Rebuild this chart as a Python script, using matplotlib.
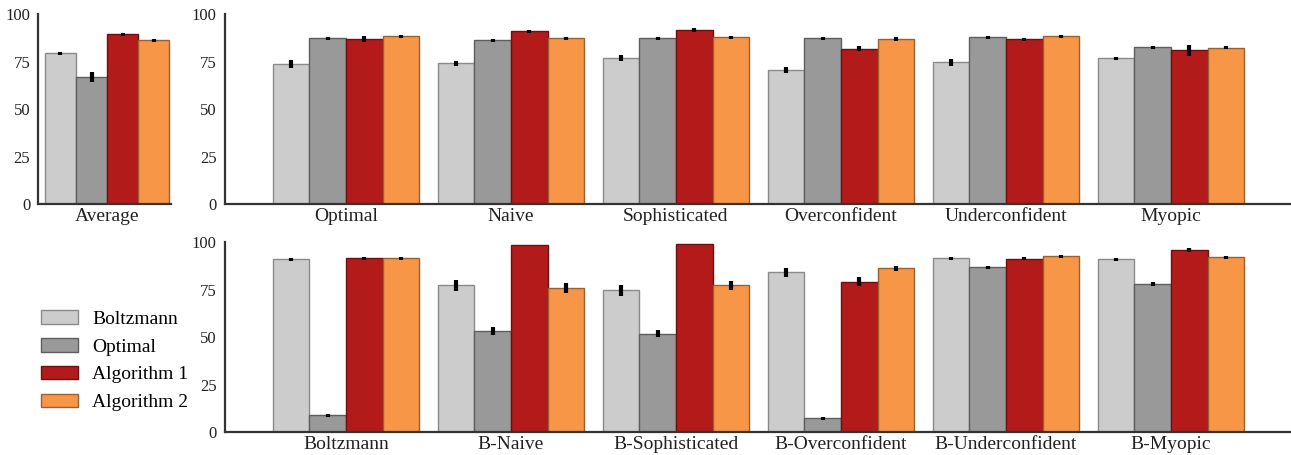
import matplotlib.pyplot as plt
import numpy as np

plt.rcParams['font.family'] = ['Liberation Serif', 'DejaVu Serif']

SERIES = ['Boltzmann', 'Optimal', 'Algorithm 1', 'Algorithm 2']
COLORS = ['#cccccc', '#999999', '#b31b1b', '#f79646']
EDGES = ['#8a8a8a', '#5e5e5e', '#6e1010', '#9a6130']

# average panel
avg_means = [79.3, 66.7, 89.3, 86.1]
avg_errs = [0.8, 2.6, 0.8, 0.7]

# top panel
top_cats = ['Optimal', 'Naive', 'Sophisticated', 'Overconfident', 'Underconfident', 'Myopic']
top_boltz = [73.7, 74.0, 77.0, 70.5, 74.6, 76.7]
top_opt = [87.2, 86.1, 87.2, 87.2, 87.7, 82.5]
top_alg1 = [86.7, 90.9, 91.4, 81.8, 86.7, 80.9]
top_alg2 = [88.2, 87.2, 87.7, 86.7, 88.2, 82.3]
top_boltz_err = [2.0, 1.2, 1.5, 1.6, 1.7, 0.9]
top_opt_err = [0.8, 0.8, 0.9, 0.9, 0.8, 0.8]
top_alg1_err = [1.5, 0.8, 1.1, 1.3, 0.9, 2.9]
top_alg2_err = [0.9, 0.8, 0.9, 1.0, 0.8, 0.8]

# bottom panel
bot_cats = ['Boltzmann', 'B-Naive', 'B-Sophisticated', 'B-Overconfident', 'B-Underconfident', 'B-Myopic']
bot_boltz = [90.9, 77.2, 74.6, 84.0, 91.4, 90.9]
bot_opt = [8.8, 53.0, 51.8, 7.2, 86.7, 77.7]
bot_alg1 = [91.4, 98.4, 98.8, 79.1, 91.2, 95.8]
bot_alg2 = [91.4, 75.8, 77.2, 86.1, 92.5, 91.9]
bot_boltz_err = [0.9, 2.8, 2.8, 2.4, 0.7, 0.7]
bot_opt_err = [0.8, 2.2, 2.0, 0.7, 0.8, 1.0]
bot_alg1_err = [0.7, 0.0, 0.0, 2.4, 0.7, 0.8]
bot_alg2_err = [0.7, 2.8, 2.3, 1.4, 0.7, 0.6]

GAP = 4.5  # distance between group starts, in bar widths


def style_axis(ax, cats, centers):
    for s in ['top', 'right']:
        ax.spines[s].set_visible(False)
    for s in ['left', 'bottom']:
        ax.spines[s].set_color('#333333')
        ax.spines[s].set_linewidth(1.6)
    ax.set_ylim(0, 100)
    ax.set_yticks([0, 25, 50, 75, 100])
    ax.set_xticks(centers)
    ax.set_xticklabels(cats, fontsize=14)
    ax.tick_params(axis='both', length=0, colors='#222222')
    ax.tick_params(axis='y', labelsize=12, pad=6)
    ax.tick_params(axis='x', pad=3)


def draw_groups(ax, means, errs, ngroups):
    base = np.arange(ngroups) * GAP
    handles = []
    for j in range(4):
        b = ax.bar(base + j + 0.5, means[j], width=1.0, color=COLORS[j],
                   edgecolor=EDGES[j], linewidth=1.0, label=SERIES[j], zorder=2)
        ax.errorbar(base + j + 0.5, means[j], yerr=errs[j], fmt='none',
                    ecolor='black', elinewidth=3, capsize=0, zorder=3)
        handles.append(b)
    return base + 2.0, handles


fig = plt.figure(figsize=(12.91, 4.55), dpi=100)

ax1 = fig.add_axes([0.0298, 0.5516, 0.1027, 0.4176])
ax2 = fig.add_axes([0.1743, 0.5516, 0.8250, 0.4176])
ax3 = fig.add_axes([0.1743, 0.0505, 0.8250, 0.4176])

# average
c1, handles = draw_groups(ax1, [[v] for v in avg_means], [[e] for e in avg_errs], 1)
style_axis(ax1, ['Average'], c1)
ax1.set_xlim(-0.2, 4.05)

top_means = [top_boltz, top_opt, top_alg1, top_alg2]
top_errs = [top_boltz_err, top_opt_err, top_alg1_err, top_alg2_err]
c2, _ = draw_groups(ax2, top_means, top_errs, len(top_cats))
style_axis(ax2, top_cats, c2)
ax2.set_xlim(-1.3, GAP * 5 + 4 + 1.25)

bot_means = [bot_boltz, bot_opt, bot_alg1, bot_alg2]
bot_errs = [bot_boltz_err, bot_opt_err, bot_alg1_err, bot_alg2_err]
c3, _ = draw_groups(ax3, bot_means, bot_errs, len(bot_cats))
style_axis(ax3, bot_cats, c3)
ax3.set_xlim(-1.3, GAP * 5 + 4 + 1.25)

fig.legend(handles=handles, labels=SERIES, loc='center left',
           bbox_to_anchor=(0.0257, 0.207), frameon=False, fontsize=14,
           handlelength=1.9, handleheight=0.7, handletextpad=0.72,
           labelspacing=0.52, borderaxespad=0)

fig.savefig('out.png', dpi=100)
